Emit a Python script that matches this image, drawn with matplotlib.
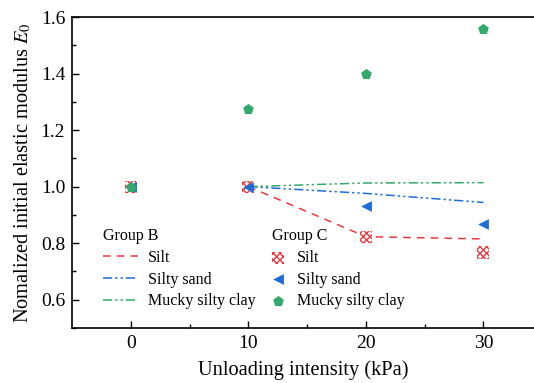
import matplotlib
matplotlib.use('Agg')
import matplotlib.pyplot as plt

plt.rcParams['font.family'] = ['Liberation Serif', 'DejaVu Serif']
plt.rcParams['mathtext.fontset'] = 'stix'
plt.rcParams['hatch.linewidth'] = 1.0

# unloading intensity (kPa)
x_pts = [0, 10, 20, 30]
x_line = [10, 20, 30]

# Group B: fitted curves
b_silt = [1.0, 0.823, 0.815]
b_sand = [1.0, 0.976, 0.944]
b_clay = [1.0, 1.013, 1.014]

# Group C: measured points
c_silt = [1.0, 1.0, 0.822, 0.767]
c_sand = [1.0, 1.0, 0.930, 0.869]
c_clay = [1.0, 1.273, 1.400, 1.556]

RED = "#E8393F"
BLUE = "#1E6CD6"
GREEN = "#33AA6B"

fig = plt.figure(figsize=(5.34, 3.83), dpi=100)
ax = fig.add_axes([0.135, 0.1436, 0.865, 0.812])

ln_silt, = ax.plot(x_line, b_silt, color=RED, lw=1.1, dashes=(5, 4))
ln_sand, = ax.plot(x_line, b_sand, color=BLUE, lw=1.1,
                   dashes=(6, 2, 1.5, 2, 1.5, 2))
ln_clay, = ax.plot(x_line, b_clay, color=GREEN, lw=1.1,
                   dashes=(6, 2, 1.5, 2, 1.5, 2))

sc_silt = ax.scatter(x_pts, c_silt, marker='s', s=75, facecolor='white',
                     edgecolor=RED, hatch='xxxxx', linewidth=0.0, zorder=3)
sc_sand = ax.scatter(x_pts, c_sand, marker='<', s=60, color=BLUE,
                     linewidth=0, zorder=4)
sc_clay = ax.scatter(x_pts, c_clay, marker='p', s=65, color=GREEN,
                     linewidth=0, zorder=5)

ax.set_xlim(-5, 34.3)
ax.set_ylim(0.5, 1.6)
ax.set_xticks([0, 10, 20, 30])
ax.set_xticks([5, 15, 25], minor=True)
ax.set_yticks([0.6, 0.8, 1.0, 1.2, 1.4, 1.6])
ax.set_yticks([0.5, 0.7, 0.9, 1.1, 1.3, 1.5], minor=True)
ax.set_yticklabels(["0.6", "0.8", "1.0", "1.2", "1.4", "1.6"])
ax.tick_params(direction='in', labelsize=14, length=5, width=1.0, pad=5)
ax.tick_params(which='minor', direction='in', length=3, width=1.0)
ax.spines['right'].set_visible(False)
for s in ['left', 'bottom', 'top']:
    ax.spines[s].set_linewidth(1.2)

ax.set_xlabel("Unloading intensity (kPa)", fontsize=14.7, labelpad=6)
ax.set_ylabel("Nomalized initial elastic modulus $E_0$", fontsize=14.7,
              labelpad=5)

leg_b = ax.legend([ln_silt, ln_sand, ln_clay],
                  ["Silt", "Silty sand", "Mucky silty clay"],
                  title="Group B", loc='lower left',
                  bbox_to_anchor=(0.05, 0.035), frameon=False, fontsize=11.5,
                  title_fontsize=11.5, handlelength=2.2, handletextpad=0.6,
                  labelspacing=0.35, alignment='left', borderpad=0)
ax.add_artist(leg_b)
ax.legend([sc_silt, sc_sand, sc_clay],
          ["Silt", "Silty sand", "Mucky silty clay"],
          title="Group C", loc='lower left',
          bbox_to_anchor=(0.415, 0.035), frameon=False, fontsize=11.5,
          title_fontsize=11.5, handlelength=0.8, handletextpad=0.8,
          labelspacing=0.35, alignment='left', borderpad=0)

fig.savefig("out.png", dpi=100)
